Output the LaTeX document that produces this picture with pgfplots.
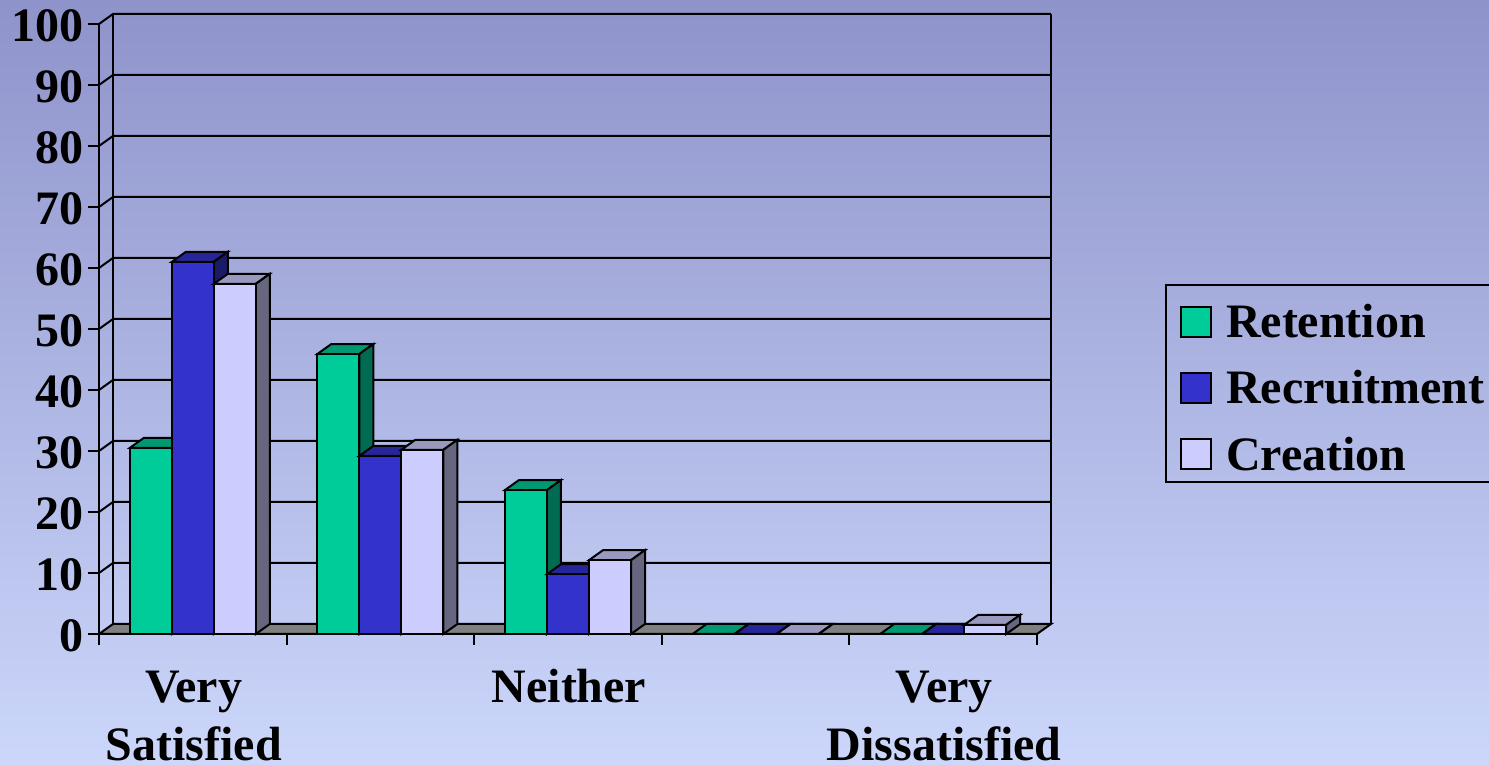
\documentclass[border=0pt]{standalone}
\usepackage{fontspec}
\setmainfont{Liberation Serif}
\usepackage{pgfplots}
\pgfplotsset{compat=1.18}

\definecolor{bgtop}{HTML}{8E93CA}
\definecolor{bgbottom}{HTML}{CCD7FB}
\definecolor{ret}{HTML}{00CC99}
\definecolor{rettop}{HTML}{009973}
\definecolor{retside}{HTML}{006B50}
\definecolor{rec}{HTML}{3333CC}
\definecolor{rectop}{HTML}{26269A}
\definecolor{recside}{HTML}{1A1A66}
\definecolor{cre}{HTML}{CCCCFF}
\definecolor{cretop}{HTML}{9999BF}
\definecolor{creside}{HTML}{666680}
\definecolor{floorc}{HTML}{808080}

% depth of the fake 3d: 14px across (in category units), 10px up (in value units)
\def\dx{0.0746}
\def\dy{1.64}
\def\wbar{0.2239}

% top and side of one bar: center, slot (-1,0,1), value, top colour, side colour
\newcommand{\depthbar}[5]{%
  \pgfmathsetmacro\xa{#1+#2*\wbar-\wbar/2}%
  \pgfmathsetmacro\xb{\xa+\wbar}%
  \pgfmathsetmacro\xc{\xa+\dx}%
  \pgfmathsetmacro\xd{\xb+\dx}%
  \pgfmathsetmacro\yt{#3+\dy}%
  \edef\tmp{\noexpand\addplot[forget plot,draw=black,line width=1pt,fill=#4] coordinates {(\xa,#3) (\xc,\yt) (\xd,\yt) (\xb,#3)} --cycle;
    \noexpand\addplot[forget plot,draw=black,line width=1pt,fill=#5] coordinates {(\xb,0) (\xd,\dy) (\xd,\yt) (\xb,#3)} --cycle;}%
  \tmp}

\newcommand{\gridline}[1]{%
  \pgfmathsetmacro\yt{#1+\dy}%
  \pgfmathsetmacro\xe{5+\dx}%
  \edef\tmp{\noexpand\addplot[forget plot,black,line width=1pt] coordinates {(0,#1) (\dx,\yt) (\xe,\yt)};}%
  \tmp}

\pgfplotsset{
  frontbar/.style={
    ybar,bar width=21pt,draw=black,line width=1pt,
    legend image code/.code={\draw[##1,line width=1pt,bar shift=0pt] (0pt,-9.5pt) rectangle (15pt,5.5pt);},
  },
  % first row of the legend is taller, its swatch sits lower
  firstbar/.style={
    frontbar,
    legend image code/.code={\draw[##1,line width=1pt,bar shift=0pt] (0pt,-12.5pt) rectangle (15pt,2.5pt);},
  },
}

\begin{document}
\begin{tikzpicture}
\useasboundingbox (0pt,0pt) rectangle (744.5pt,382.5pt);
\shade[top color=bgtop,bottom color=bgbottom] (0pt,0pt) rectangle (744.5pt,382.5pt);

\begin{axis}[
  at={(49.5pt,65.5pt)},
  anchor=south west,
  scale only axis,
  width=469pt,
  height=305pt,
  xmin=0, xmax=5,
  ymin=0, ymax=100,
  clip=false,
  axis x line*=bottom,
  axis y line*=left,
  axis line style={-,line width=1pt},
  tick style={black,line width=1pt},
  major tick length=5.5pt,
  tick align=outside,
  xtick={0,1,2,3,4,5},
  x tick label as interval,
  xticklabels={{\strut Very\\Satisfied},{},{\strut Neither},{},{\strut Very\\Dissatisfied}},
  ytick={0,10,...,100},
  /pgf/number format/assume math mode=true,
  tick label style={font=\bfseries\fontsize{24}{29}\selectfont},
  x tick label style={align=center,anchor=north,yshift=-4.8pt,xshift=0.5pt},
  y tick label style={anchor=east,xshift=1.5pt,yshift=-1pt},
  legend style={
    at={(1.1365,0.5738)},anchor=north west,
    draw=black,line width=1pt,fill=none,
    font=\bfseries\fontsize{24}{29}\selectfont,
    inner xsep=7pt,inner ysep=2.25pt,
    row sep=11pt,
    /tikz/column 1/.style={column sep=5pt},
    nodes={yshift=-2.5pt},
  },
  legend cell align=left,
]

% floor and back wall
\addplot[forget plot,draw=black,line width=1pt,fill=floorc] coordinates {(0,0) (0.0746,1.64) (5.0746,1.64) (5,0)} --cycle;
\gridline{10}\gridline{20}\gridline{30}\gridline{40}\gridline{50}
\gridline{60}\gridline{70}\gridline{80}\gridline{90}\gridline{100}
\addplot[forget plot,black,line width=1pt] coordinates {(0.0746,1.64) (0.0746,101.64)};
\addplot[forget plot,black,line width=1pt] coordinates {(5.0746,1.64) (5.0746,101.64)};

% Retention
\depthbar{0.5}{-1}{30.5}{rettop}{retside}
\depthbar{1.5}{-1}{45.9}{rettop}{retside}
\depthbar{2.5}{-1}{23.6}{rettop}{retside}
\depthbar{3.5}{-1}{0}{rettop}{retside}
\depthbar{4.5}{-1}{0}{rettop}{retside}
\addplot[firstbar,fill=ret,bar shift=-21pt] coordinates {(0.5,30.5) (1.5,45.9) (2.5,23.6) (3.5,0) (4.5,0)};

% Recruitment
\depthbar{0.5}{0}{61}{rectop}{recside}
\depthbar{1.5}{0}{29.2}{rectop}{recside}
\depthbar{2.5}{0}{9.8}{rectop}{recside}
\depthbar{3.5}{0}{0}{rectop}{recside}
\depthbar{4.5}{0}{0}{rectop}{recside}
\addplot[frontbar,fill=rec,bar shift=0pt] coordinates {(0.5,61) (1.5,29.2) (2.5,9.8) (3.5,0) (4.5,0)};

% Creation
\depthbar{0.5}{1}{57.4}{cretop}{creside}
\depthbar{1.5}{1}{30.2}{cretop}{creside}
\depthbar{2.5}{1}{12.1}{cretop}{creside}
\depthbar{3.5}{1}{0}{cretop}{creside}
\depthbar{4.5}{1}{1.5}{cretop}{creside}
\addplot[frontbar,fill=cre,bar shift=21pt] coordinates {(0.5,57.4) (1.5,30.2) (2.5,12.1) (3.5,0) (4.5,1.5)};

\legend{\rule{0pt}{22pt}Retention,Recruitment,Creation}
\end{axis}
\end{tikzpicture}
\end{document}
